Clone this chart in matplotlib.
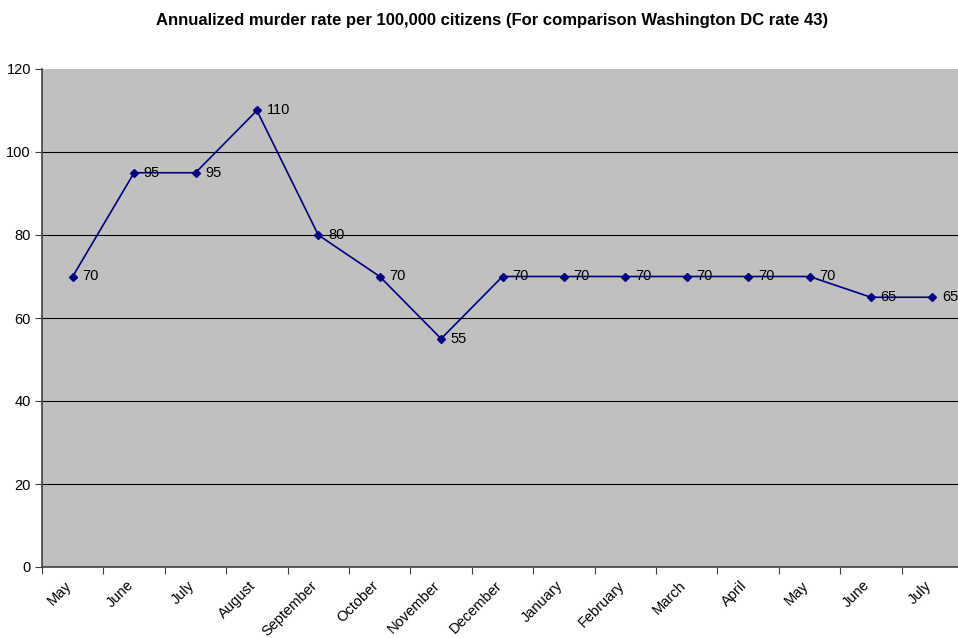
import matplotlib
matplotlib.use("Agg")
import matplotlib.pyplot as plt
from matplotlib.transforms import ScaledTranslation

# data
months = ["May", "June", "July", "August", "September", "October", "November",
          "December", "January", "February", "March", "April", "May", "June", "July"]
rate = [70, 95, 95, 110, 80, 70, 55, 70, 70, 70, 70, 70, 70, 65, 65]
yticks = [0, 20, 40, 60, 80, 100, 120]

plt.rcParams['font.family'] = ['Liberation Sans', 'DejaVu Sans']

fig = plt.figure(figsize=(9.58, 6.38), dpi=100)
ax = fig.add_axes([42/958, 1 - 567/638, 921/958, 498/638])
ax.set_facecolor('#C0C0C0')

x = list(range(len(months)))
ax.plot(x, rate, color='#000080', lw=1.2, marker='D', ms=4.5, clip_on=False, zorder=3)
for xi, v in zip(x, rate):
    ax.annotate(str(v), (xi, v), xytext=(7, 0), textcoords='offset points',
                va='center', ha='left', fontsize=10.5, annotation_clip=False)

ax.set_xlim(-0.5, len(months) - 0.5)
ax.set_ylim(0, 120)
ax.set_yticks(yticks)
ax.yaxis.grid(True, color='black', lw=0.8)
ax.set_axisbelow(True)
# no gridline along the top edge
ax.yaxis.get_gridlines()[-1].set_visible(False)

# ticks at category boundaries, labels at centres
ax.set_xticks([i - 0.5 for i in range(len(months) + 1)])
ax.set_xticklabels([])
ax.set_xticks(x, minor=True)
ax.set_xticklabels(months, minor=True, rotation=45, ha='right', va='top',
                   rotation_mode='anchor', fontsize=10.5)
ax.tick_params(axis='x', which='minor', length=0, pad=8)
ax.tick_params(axis='x', which='major', length=5, color='#404040', direction='out')
ax.tick_params(axis='y', length=5, color='#404040', labelsize=10.5, pad=3)
shift = ScaledTranslation(-8/100, 0, fig.dpi_scale_trans)
for lab in ax.get_xticklabels(minor=True):
    lab.set_transform(lab.get_transform() + shift)

for s in ['top', 'right']:
    ax.spines[s].set_visible(False)
for s in ['left', 'bottom']:
    ax.spines[s].set_color('#404040')
    ax.spines[s].set_linewidth(1.2)

fig.text(492/958, 1 - 20/638, "Annualized murder rate per 100,000 citizens (For comparison Washington DC rate 43)",
         ha='center', va='center', fontsize=12, fontweight='bold')

fig.savefig("out.png", dpi=100)
